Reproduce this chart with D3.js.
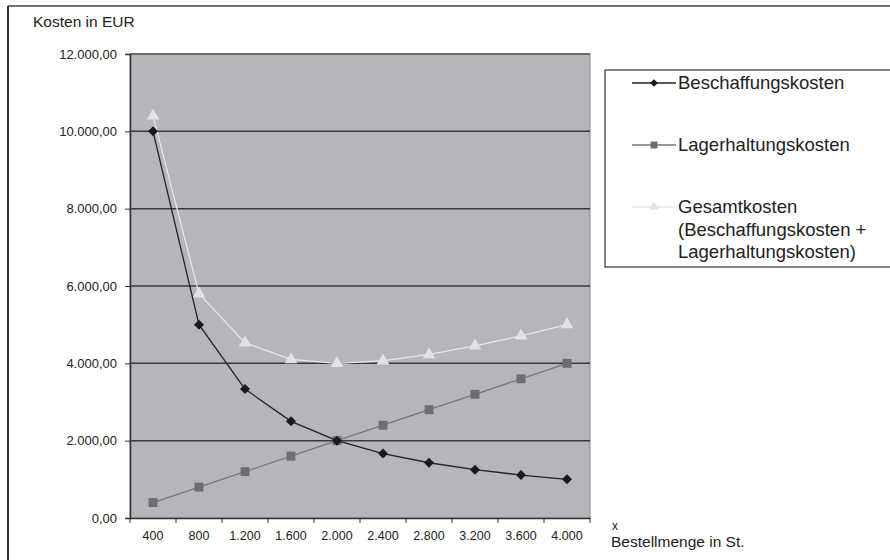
<!DOCTYPE html>
<html>
<head>
<meta charset="utf-8">
<script src="https://cdn.jsdelivr.net/npm/d3@7"></script>
<style>
  body { margin: 0; background: #fff; }
  svg text { font-family: "Liberation Sans", Arial, sans-serif; fill: #222; }
</style>
</head>
<body>
<svg width="890" height="560"></svg>
<script>
// categories (Bestellmenge) and series values
var mengen = ['400', '800', '1.200', '1.600', '2.000', '2.400', '2.800', '3.200', '3.600', '4.000'];
var beschaffung = [10000, 5000, 3333, 2500, 2000, 1667, 1429, 1250, 1111, 1000];
var lager = [400, 800, 1200, 1600, 2000, 2400, 2800, 3200, 3600, 4000];
var gesamt = [10400, 5800, 4533, 4100, 4000, 4067, 4229, 4450, 4711, 5000];
var yTicks = [0, 2000, 4000, 6000, 8000, 10000, 12000];

var svg = d3.select('svg');
var padding = { t: 54, l: 130, r: 300, b: 42 };
var chartWidth = 890 - padding.l - padding.r;
var chartHeight = 560 - padding.t - padding.b;

var fmt = d3.formatLocale({ decimal: ',', thousands: '.', grouping: [3], currency: ['', ' EUR'] }).format(',.2f');

var xScale = d3.scaleBand().domain(mengen).range([0, chartWidth]).padding(0);
var yScale = d3.scaleLinear().domain([0, 12000]).range([chartHeight, 0]);

// outer frame (left + top)
svg.append('line').attr('x1', 8).attr('x2', 8).attr('y1', 6).attr('y2', 560)
    .attr('stroke', '#333').attr('stroke-width', 2);
svg.append('line').attr('x1', 8).attr('x2', 890).attr('y1', 6).attr('y2', 6)
    .attr('stroke', '#444').attr('stroke-width', 1.5);

var chartG = svg.append('g')
    .attr('transform', `translate(${padding.l}, ${padding.t})`);

// plot background
chartG.append('rect')
    .attr('width', chartWidth).attr('height', chartHeight)
    .attr('fill', '#b5b6bb')
    .attr('stroke', '#888').attr('stroke-width', 1);
chartG.append('line').attr('x1', 0).attr('x2', chartWidth).attr('y1', 0).attr('y2', 0)
    .attr('stroke', '#555').attr('stroke-width', 1.5);

// gridlines
chartG.selectAll('.grid').data(yTicks.slice(1, -1)).enter().append('line')
    .attr('class', 'grid')
    .attr('x1', 0).attr('x2', chartWidth)
    .attr('y1', d => yScale(d)).attr('y2', d => yScale(d))
    .attr('stroke', '#3a3a3a').attr('stroke-width', 1.5);

// y axis
var yAxis = chartG.append('g')
    .call(d3.axisLeft(yScale).tickValues(yTicks).tickFormat(fmt).tickSize(5).tickPadding(8));
yAxis.select('.domain').attr('stroke', '#333').attr('stroke-width', 1.5);
yAxis.selectAll('line').attr('stroke', '#333');
yAxis.selectAll('text').style('font-size', '13px').attr('fill', '#222');

// x axis: labels centred in band, ticks at band edges
var xAxis = chartG.append('g')
    .attr('transform', `translate(0, ${chartHeight})`)
    .call(d3.axisBottom(xScale).tickSize(0).tickPadding(13));
xAxis.select('.domain').attr('stroke', '#333').attr('stroke-width', 1.5);
xAxis.selectAll('text').style('font-size', '12.5px').attr('fill', '#222');
var edges = mengen.map(d => xScale(d)).concat([chartWidth]);
xAxis.selectAll('.edge').data(edges).enter().append('line')
    .attr('class', 'edge')
    .attr('x1', d => d).attr('x2', d => d).attr('y1', 0).attr('y2', 5)
    .attr('stroke', '#333');

// series (rot = rotation of the marker, square turned 45deg gives the Excel diamond)
var series = [
    { name: 'gesamt', values: gesamt, color: '#e6e6e6', marker: d3.symbolTriangle, size: 70, mcolor: '#e2e2e2', rot: 0 },
    { name: 'lager', values: lager, color: '#777', marker: d3.symbolSquare, size: 80, mcolor: '#6e6e6e', rot: 0 },
    { name: 'beschaffung', values: beschaffung, color: '#222', marker: d3.symbolSquare, size: 50, mcolor: '#1a1a1a', rot: 45 }
];

var line = d3.line()
    .x((d, i) => xScale(mengen[i]) + xScale.bandwidth() / 2)
    .y(d => yScale(d));

series.forEach(function(s) {
    chartG.append('path')
        .datum(s.values)
        .attr('d', line)
        .attr('fill', 'none')
        .attr('stroke', s.color)
        .attr('stroke-width', 1.3);
    chartG.selectAll('.m-' + s.name).data(s.values).enter().append('path')
        .attr('class', 'm-' + s.name)
        .attr('d', d3.symbol().type(s.marker).size(s.size))
        .attr('transform', (d, i) => `translate(${xScale(mengen[i]) + xScale.bandwidth() / 2}, ${yScale(d)}) rotate(${s.rot})`)
        .attr('fill', s.mcolor);
});

// axis titles
svg.append('text').attr('x', 33).attr('y', 27).style('font-size', '15.5px').text('Kosten in EUR');
svg.append('text').attr('x', 612).attr('y', 530).style('font-size', '12px').attr('fill', '#555').text('x');
svg.append('text').attr('x', 611).attr('y', 547).style('font-size', '15.5px').text('Bestellmenge in St.');

// legend
svg.append('rect').attr('x', 605).attr('y', 70).attr('width', 300).attr('height', 197)
    .attr('fill', '#fff').attr('stroke', '#333').attr('stroke-width', 1.2);

var legendItems = [
    { lines: ['Beschaffungskosten'], y: 83, s: series[2] },
    { lines: ['Lagerhaltungskosten'], y: 145, s: series[1] },
    { lines: ['Gesamtkosten', '(Beschaffungskosten +', 'Lagerhaltungskosten)'], y: 207, s: series[0] }
];

legendItems.forEach(function(item) {
    var g = svg.append('g');
    g.append('line').attr('x1', 632).attr('x2', 676).attr('y1', item.y).attr('y2', item.y)
        .attr('stroke', item.s.color).attr('stroke-width', 1.5);
    g.append('path')
        .attr('d', d3.symbol().type(item.s.marker).size(item.s.size * 0.6))
        .attr('transform', `translate(654, ${item.y}) rotate(${item.s.rot})`)
        .attr('fill', item.s.mcolor);
    item.lines.forEach(function(t, i) {
        g.append('text').attr('x', 678).attr('y', item.y + 6 + i * 22.5)
            .style('font-size', '18.5px').text(t);
    });
});
</script>
</body>
</html>
